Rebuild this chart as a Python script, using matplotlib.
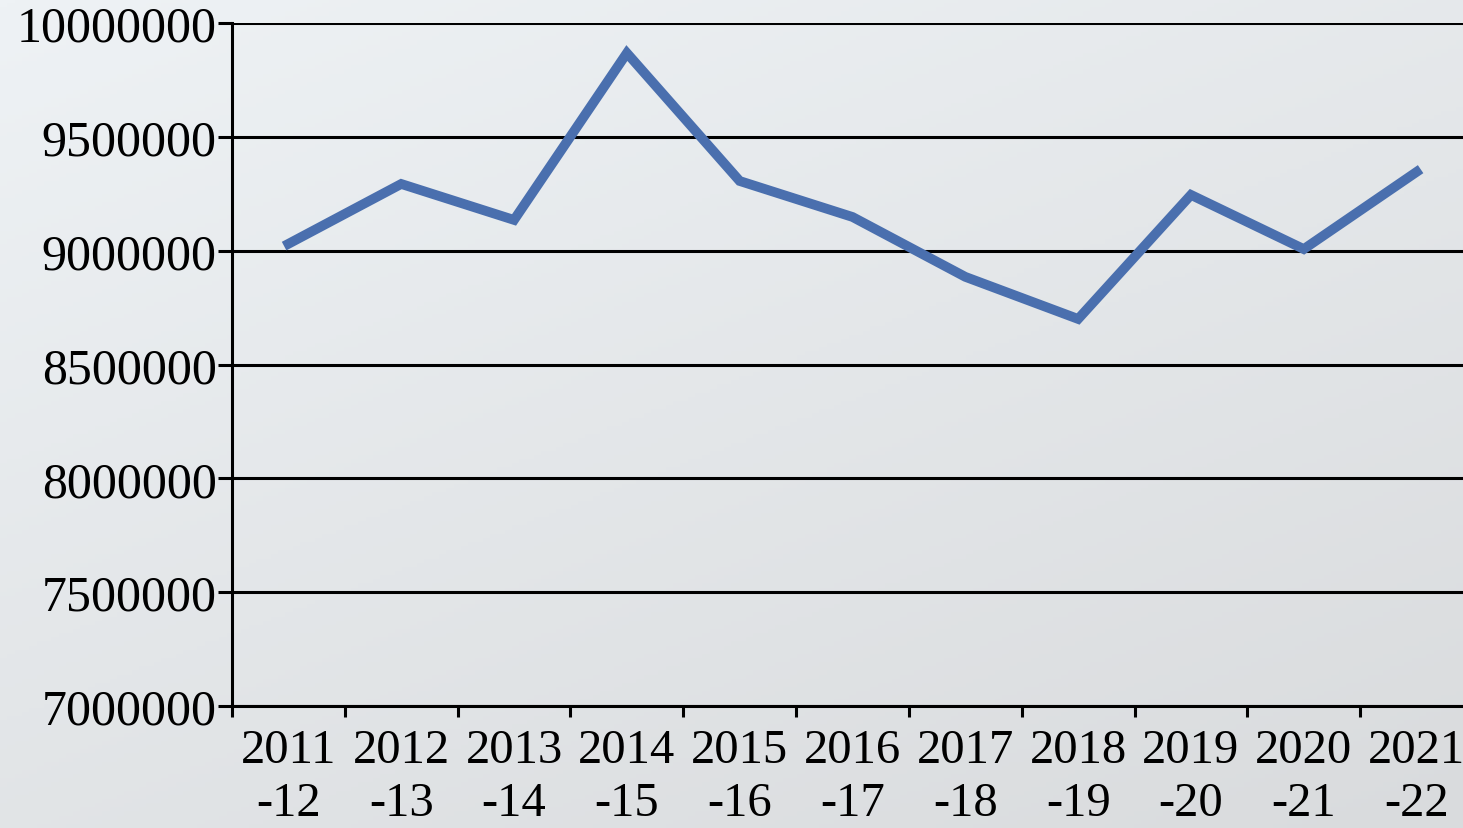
import numpy as np
import matplotlib
matplotlib.use("Agg")
import matplotlib.pyplot as plt

# financial years and the values
years = ["2011\n-12", "2012\n-13", "2013\n-14", "2014\n-15", "2015\n-16", "2016\n-17",
         "2017\n-18", "2018\n-19", "2019\n-20", "2020\n-21", "2021\n-22"]
values = [9030000, 9293000, 9135000, 9868000, 9306000, 9148000,
          8885000, 8700000, 9245000, 9007000, 9346000]
yticks = [7000000, 7500000, 8000000, 8500000, 9000000, 9500000, 10000000]

plt.rcParams['font.family'] = ['Liberation Serif', 'DejaVu Serif']

fig = plt.figure(figsize=(14.63, 8.29), dpi=100)

# soft grey photo-like background
bg = fig.add_axes([0, 0, 1, 1], zorder=-10)
gy, gx = np.mgrid[0:1:200j, 0:1:200j]
shade = 0.6 * gy + 0.4 * gx
bg.imshow(shade, cmap=matplotlib.colors.LinearSegmentedColormap.from_list(
    "bg", ["#eef2f5", "#d9dbdd"]), aspect='auto', extent=[0, 1, 0, 1])
bg.axis('off')

ax = fig.add_axes([232 / 1463, 122 / 829, 1241 / 1463, 683 / 829])
ax.patch.set_alpha(0)

x = np.arange(len(years))
ax.plot(x, values, color="#4a6fae", linewidth=7, solid_joinstyle='miter', zorder=3)

ax.set_xlim(-0.5, len(years) - 0.5)
ax.set_ylim(7000000, 10000000)
ax.set_yticks(yticks)
ax.set_yticklabels([str(v) for v in yticks])
ax.set_xticks(np.arange(len(years) + 1) - 0.5)
ax.set_xticklabels([])
ax.set_xticks(x, minor=True)
ax.set_xticklabels(years, minor=True, linespacing=1.25)

ax.yaxis.grid(True, color='black', linewidth=2.2)
ax.set_axisbelow(True)
for side in ['top', 'right']:
    ax.spines[side].set_visible(False)
for side in ['left', 'bottom']:
    ax.spines[side].set_linewidth(2.2)
    ax.spines[side].set_color('black')

ax.tick_params(axis='y', labelsize=36, length=10, width=2.2, pad=1)
ax.tick_params(axis='x', which='major', length=8, width=2.2)
ax.tick_params(axis='x', which='minor', length=0, labelsize=35, pad=16)

fig.savefig("out.png", dpi=100)
